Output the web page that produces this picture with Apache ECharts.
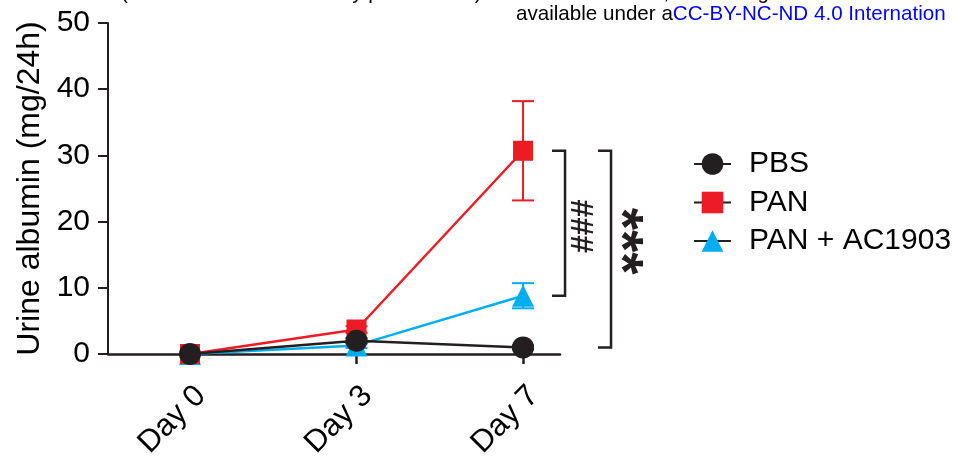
<!DOCTYPE html>
<html>
<head>
<meta charset="utf-8">
<script src="https://cdn.jsdelivr.net/npm/echarts@6/dist/echarts.min.js"></script>
<style>
  html, body { margin: 0; padding: 0; background: #fff; }
  #chart { width: 963px; height: 457px; }
</style>
</head>
<body>
<div id="chart"></div>
<script>
const days = ['Day 0', 'Day 3', 'Day 7']
const yTicks = [0, 10, 20, 30, 40, 50]

const pbs = [0, 2.0, 1.0]
const pbsErr = [0, 0.4, 0.3]
const pan = [0, 3.7, 30.7]
const panErr = [0, 0.5, 7.5]
const ac = [0, 1.3, 8.8]
const acErr = [0, 0.4, 1.9]

const seriesNames = ['PBS', 'PAN', 'PAN + AC1903']
const bracketLabels = ['###', '***']

const BLACK = '#231f20'
const RED = '#ed1c24'
const BLUE = '#00aeef'
const FONT = '"Liberation Sans", Arial, sans-serif'

const chart = echarts.init(document.getElementById('chart'))

const toPoints = arr => arr.map((v, i) => [i, v])
const toErr = (vals, errs) => vals.map((v, i) => [i, v - errs[i], v + errs[i]])

const errorSeries = (vals, errs, color) => ({
  type: 'custom',
  clip: false,
  silent: true,
  z: 1,
  data: toErr(vals, errs).filter(d => d[2] > d[1]),
  renderItem (params, api) {
    const lo = api.coord([api.value(0), api.value(1)])
    const hi = api.coord([api.value(0), api.value(2)])
    const w = 11
    const style = { stroke: color, lineWidth: 2 }
    return {
      type: 'group',
      children: [
        { type: 'line', shape: { x1: lo[0], y1: lo[1], x2: hi[0], y2: hi[1] }, style },
        { type: 'line', shape: { x1: hi[0] - w, y1: hi[1], x2: hi[0] + w, y2: hi[1] }, style },
        { type: 'line', shape: { x1: lo[0] - w, y1: lo[1], x2: lo[0] + w, y2: lo[1] }, style }
      ]
    }
  }
})

const lineSeries = (name, vals, color, symbol, size) => ({
  name,
  type: 'line',
  data: toPoints(vals),
  symbol,
  symbolSize: size,
  clip: false,
  z: 3,
  itemStyle: { color },
  lineStyle: { color, width: 2.5 },
  emphasis: { disabled: true }
})

// brackets run from PAN (top) down to the compared group, at Day 7
const brackets = [
  { label: bracketLabels[0], top: pan[2], bottom: ac[2] },
  { label: bracketLabels[1], top: pan[2], bottom: pbs[2] }
]
const bracketLayout = [
  { dx: 29, tx: 19, ty: 3, font: 'bold 32px ' + FONT, rot: Math.PI / 2 },
  { dx: 75, tx: 8, ty: -8, font: 'bold 57px ' + FONT, rot: -Math.PI / 2 }
]

const option = {
  animation: false,
  grid: { left: 108, top: 23, right: 403, bottom: 103, outerBoundsMode: 'none' },
  xAxis: {
    type: 'value',
    min: -0.4925,
    max: 2.222,
    splitLine: { show: false },
    axisLine: { show: true, lineStyle: { color: BLACK, width: 2.5 } },
    axisTick: { show: true, customValues: [0, 1, 2], length: 10, lineStyle: { color: BLACK, width: 2.5 } },
    axisLabel: {
      customValues: [0, 1, 2],
      formatter: v => days[Math.round(v)],
      rotate: 45,
      margin: 26,
      verticalAlign: 'top',
      color: '#000',
      fontSize: 31,
      fontFamily: FONT
    }
  },
  yAxis: {
    type: 'value',
    min: yTicks[0],
    max: yTicks[yTicks.length - 1],
    interval: 10,
    name: 'Urine albumin (mg/24h)',
    nameLocation: 'middle',
    nameGap: 62,
    nameTextStyle: { color: '#000', fontSize: 32, fontFamily: FONT },
    splitLine: { show: false },
    axisLine: { show: true, onZero: false, lineStyle: { color: BLACK, width: 2 } },
    axisTick: { show: true, length: 10, lineStyle: { color: BLACK, width: 2 } },
    axisLabel: { margin: 18, color: '#000', fontSize: 30, fontFamily: FONT }
  },
  legend: {
    orient: 'vertical',
    left: 688,
    top: 144,
    itemWidth: 37,
    itemHeight: 27,
    itemGap: 8.5,
    data: seriesNames,
    lineStyle: { color: BLACK, width: 2 },
    textStyle: { color: '#000', fontSize: 30, lineHeight: 30, fontFamily: FONT, padding: [0, 0, 0, 13] },
    selectedMode: false
  },
  graphic: [
    {
      type: 'text', left: 121, top: -17,
      style: { text: '(which was not certified by peer review) is the author/funder, who has granted', font: '20.6px ' + FONT, fill: '#000' }
    },
    {
      type: 'text', left: 516, top: 4,
      style: {
        text: 'available under a{b|CC-BY-NC-ND 4.0 Internation}',
        font: '20.6px ' + FONT,
        fill: '#000',
        rich: { b: { fill: '#0000ff', font: '20.6px ' + FONT } }
      }
    }
  ],
  series: [
    errorSeries(ac, acErr, BLUE),
    errorSeries(pan, panErr, RED),
    errorSeries(pbs, pbsErr, BLACK),
    lineSeries('PAN + AC1903', ac, BLUE, 'triangle', 22),
    lineSeries('PAN', pan, RED, 'rect', 20),
    lineSeries('PBS', pbs, BLACK, 'circle', 22),
    {
      type: 'custom',
      clip: false,
      silent: true,
      z: 4,
      data: brackets.map(b => [2, b.top, b.bottom]),
      renderItem (params, api) {
        const b = brackets[params.dataIndex]
        const l = bracketLayout[params.dataIndex]
        const p1 = api.coord([api.value(0), api.value(1)])
        const p2 = api.coord([api.value(0), api.value(2)])
        const x0 = p1[0] + l.dx
        const x1 = x0 + 13
        return {
          type: 'group',
          children: [
            {
              type: 'polyline',
              shape: { points: [[x0, p1[1]], [x1, p1[1]], [x1, p2[1]], [x0, p2[1]]] },
              style: { stroke: BLACK, lineWidth: 2.5, fill: null }
            },
            {
              type: 'text',
              x: x1 + l.tx,
              y: (p1[1] + p2[1]) / 2 + l.ty,
              rotation: l.rot,
              style: { text: b.label, font: l.font, fill: BLACK, align: 'center', verticalAlign: 'middle' }
            }
          ]
        }
      }
    }
  ]
}

chart.setOption(option)
</script>
</body>
</html>
